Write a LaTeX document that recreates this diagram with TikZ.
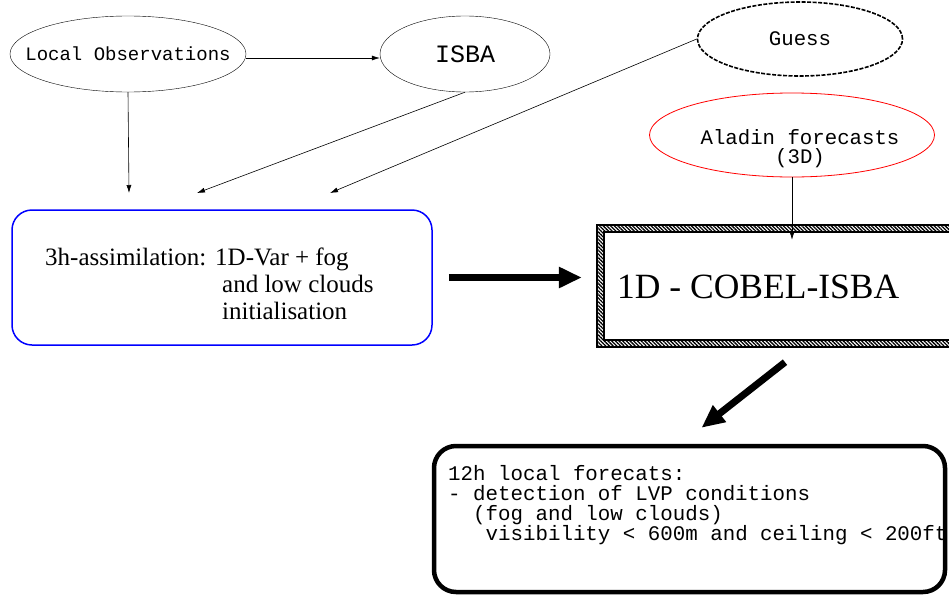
\documentclass[tikz,border=0pt]{standalone}
\usepackage{fontspec}
\setmainfont{Liberation Serif}
\setmonofont{Liberation Mono}
\usetikzlibrary{
    shapes.geometric,
    arrows.meta,
    patterns.meta,
    positioning,
    calc
}
\tikzset{
    source/.style={ellipse, draw, inner sep=0pt, font=\ttfamily\fontsize{19}{21}\selectfont},
    flow/.style={->, line width=0.6pt},
    bigarrow/.style={line width=7pt, -{Triangle[length=23pt,width=20pt]}}
}
\begin{document}
\begin{tikzpicture}[x=1pt, y=-1pt, >={Latex[length=8pt,width=5pt]}]
                        \clip (0,0) rectangle (949,597);
                        \node[source, inner xsep=-20pt, minimum width=236, minimum height=76] (obs) at (128,54) {Local Observations};
                        \node[source, minimum width=170, minimum height=76, font=\ttfamily\fontsize{25}{27}\selectfont] (isba) at (465,54) {ISBA};
                        \node[source, dash pattern=on 4pt off 1.5pt, line width=1.6pt, minimum width=205, minimum height=74, font=\ttfamily\fontsize{20.7}{22}\selectfont] (guess) at (800,39) {Guess};
                        \node[source, draw=red, line width=0.8pt, minimum width=285, minimum height=84] (aladin) at (792,135) {};
                        \node[align=center, font=\ttfamily\fontsize{20.7}{19}\selectfont] (aladintxt) at (800,148.5) {Aladin forecasts\\(3D)};
                        % assimilation box
                        \node[draw=blue, line width=1.5pt, rounded corners=20pt, minimum width=420, minimum height=135, inner sep=0pt] (assim) at (222,277.5) {};
                        \node[anchor=west, font=\fontsize{25}{27}\selectfont, inner sep=0pt] (assimtxt) at (45,287.5) {\begin{tabular}{@{}l@{}l@{}}\makebox[170pt][l]{3h-assimilation:} & 1D-Var + fog\\ & \hspace{7pt}and low clouds\\ & \hspace{7pt}initialisation\end{tabular}};
                        % model box with hatched frame
                        \fill[pattern={Lines[angle=-45, distance=2.6pt, line width=1.3pt]}, even odd rule] (597,225) rectangle (970,347) (604,232) rectangle (970,340);
                        \draw[line width=1.8pt] (597,225) rectangle (970,347) (604,232) rectangle (970,340);
                        \node[minimum width=373, minimum height=122, inner sep=0pt] (cobel) at (783.5,286) {};
                        \node[anchor=west, font=\fontsize{35.5}{38}\selectfont, inner sep=0pt] (cobeltxt) at (617,287) {1D - COBEL-ISBA};
                        % forecast box
                        \node[draw, line width=4.5pt, rounded corners=22pt, minimum width=511, minimum height=146, inner sep=0pt] (fcst) at (689.5,519) {};
                        \node[anchor=north west, align=left, font=\ttfamily\fontsize{20.8}{20.2}\selectfont, inner sep=0pt] (fcsttxt) at (448,465) {12h local forecats:\\- detection of LVP conditions\\\phantom{xx}(fog and low clouds)\\\phantom{xxx}visibility < 600m and ceiling < 200ft};
                        \coordinate (in1) at (129,193);
                        \coordinate (in2) at (197,193);
                        \coordinate (in3) at (330,193);
                        \draw
                        (obs.east |- 0,58) edge[flow] (isba.west |- 0,58)
                        (obs.south) edge[flow] (in1)
                        (isba.south) edge[flow] (in2)
                        (guess.west) edge[flow] (in3)
                        (aladin.south) edge[flow] ([yshift=-15]aladin.south |- cobel.north);
                        \draw[bigarrow] ([xshift=16]assim.east) -- ([xshift=-15]assim.east -| cobel.west);
                        \draw[bigarrow] ($(cobel.south)+(1.5,15)$) -- ($(fcst.north)+(12,-16)$);
\end{tikzpicture}
\end{document}
